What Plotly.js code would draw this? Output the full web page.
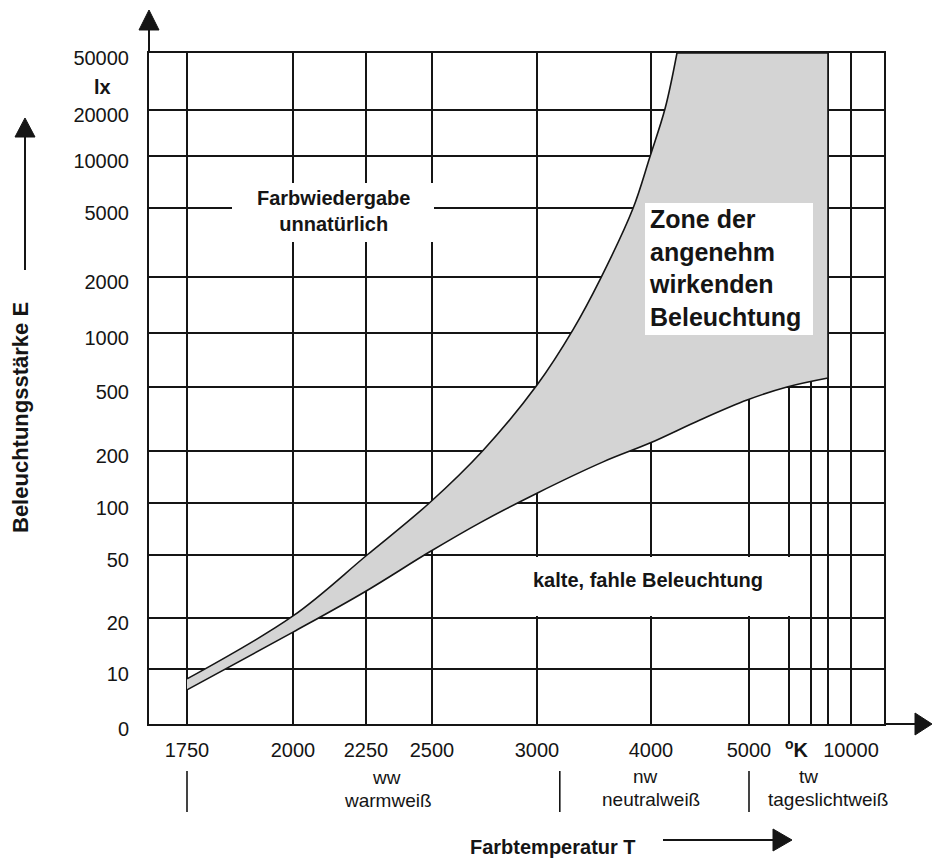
<!DOCTYPE html>
<html><head><meta charset="utf-8">
<script src="https://cdn.plot.ly/plotly-3.0.1.min.js"></script>
<style>html,body{margin:0;padding:0;background:#fff}#chart{width:933px;height:860px}</style>
</head><body><div id="chart"></div>
<script>
// ---- Data (colour temperature in K, illuminance in lx) ----
const upperT = [1750, 2000, 2254, 2490, 2745, 3000, 3315, 3555, 3840, 3990, 4145, 4265];
const upperE = [8.2, 20.6, 50, 100, 203, 513, 1040, 1950, 4930, 9870, 20650, 50000];
const lowerT = [1750, 2000, 2245, 2490, 2730, 3000, 3580, 3990, 4500, 4980, 5950, 8000];
const lowerE = [6.2, 16.5, 29.2, 52, 77, 114, 173, 224, 312, 415, 500, 561];
const zoneRightT = 8000;
const zoneTopE = 50000;

// ---- Axis ticks ----
const yTickValues = [0, 10, 20, 50, 100, 200, 500, 1000, 2000, 5000, 10000, 20000, 50000];
const yTickLabels = ['0', '10', '20', '50', '100', '200', '500', '1000', '2000', '5000', '10000', '20000', '50000'];
const xTickValues = [1750, 2000, 2250, 2500, 3000, 4000, 5000, 6000, 7000, 8000, 10000];
const xTickLabels = ['1750', '2000', '2250', '2500', '3000', '4000', '5000', '', '', '', '10000'];
const groupBounds = [1750, 3200, 5000];
const groupShort = ['ww', 'nw', 'tw'];
const groupNames = ['warmweiß', 'neutralweiß', 'tageslichtweiß'];

// ---- Non-uniform printed scale of the nomogram (grid spacing in axis units) ----
const xScaleSpacing = [38, 144, 217, 283, 388, 502, 600, 640, 662, 679, 702];
const yScaleSpacing = [0, 55, 106, 169, 221, 273, 337, 391, 447, 516, 568, 614, 671];

function xPos(t) {
  const v = xTickValues, u = xScaleSpacing;
  let i = 0;
  while (i < v.length - 2 && t > v[i + 1]) i++;
  return u[i] + (u[i + 1] - u[i]) * (t - v[i]) / (v[i + 1] - v[i]);
}
function yPos(e) {
  const v = yTickValues, u = yScaleSpacing;
  if (e <= v[1]) return u[1] * e / v[1];
  let i = 1;
  while (i < v.length - 2 && e > v[i + 1]) i++;
  return u[i] + (u[i + 1] - u[i]) * Math.log(e / v[i]) / Math.log(v[i + 1] / v[i]);
}

// ---- zone outline: upper curve, top edge, right edge, lower curve (reversed) ----
const px = [], py = [];
function add(t, e, n) { for (let k = 0; k < (n || 1); k++) { px.push(xPos(t)); py.push(yPos(e)); } }
for (let i = 0; i < upperT.length - 1; i++) add(upperT[i], upperE[i]);
add(upperT[upperT.length - 1], upperE[upperE.length - 1], 2);   // sharp corner
add(zoneRightT, zoneTopE, 2);                                     // sharp corner
add(lowerT[lowerT.length - 1], lowerE[lowerE.length - 1], 2);   // sharp corner
for (let i = lowerT.length - 2; i >= 0; i--) add(lowerT[i], lowerE[i]);

const ink = '#151515';
const zone = {
  x: px, y: py, mode: 'lines', fill: 'toself', fillcolor: 'rgb(212,212,212)',
  line: { color: ink, width: 1.6, shape: 'spline', smoothing: 1 },
  hoverinfo: 'skip', showlegend: false
};

// ---- layout helpers (pixel placement of decorations) ----
const L = 149, T = 53, W = 735, H = 671;
const pX = p => (p - L) / W;
const pY = p => (T + H - p) / H;
const font = 'Liberation Sans, Arial, sans-serif';

function label(text, x, y, size, bold, extra) {
  return Object.assign({
    text: bold ? '<b>' + text + '</b>' : text, x: pX(x), y: pY(y), xref: 'paper', yref: 'paper',
    showarrow: false, font: { family: font, size: size, color: ink }, xanchor: 'center', yanchor: 'middle'
  }, extra || {});
}
// arrow: shaft line + filled triangular head (tip at x1,y1)
function arrowShapes(x0, y0, x1, y1, len, half) {
  const dx = x1 - x0, dy = y1 - y0, d = Math.hypot(dx, dy), ux = dx / d, uy = dy / d;
  const bx = x1 - ux * len, by = y1 - uy * len;
  const p = (a, b) => pX(a).toFixed(5) + ',' + pY(b).toFixed(5);
  return [
    { type: 'line', xref: 'paper', yref: 'paper', x0: pX(x0), y0: pY(y0), x1: pX(bx), y1: pY(by),
      line: { color: ink, width: 2 } },
    { type: 'path', xref: 'paper', yref: 'paper',
      path: 'M' + p(x1, y1) + ' L' + p(bx - uy * half, by + ux * half) + ' L' + p(bx + uy * half, by - ux * half) + ' Z',
      fillcolor: ink, line: { color: ink, width: 1 } }
  ];
}
function mask(x0, x1, y0, y1) {
  return { type: 'rect', xref: 'paper', yref: 'paper', x0: pX(x0), x1: pX(x1), y0: pY(y1), y1: pY(y0),
    fillcolor: '#ffffff', line: { width: 0 }, layer: 'above' };
}

const annotations = [
  label('Farbwiedergabe<br>unnatürlich', 333, 211, 20, true),
  label('kalte, fahle Beleuchtung', 648, 580, 20, true),
  label('Zone der<br>angenehm<br>wirkenden<br>Beleuchtung', 647, 268, 25, true, { xanchor: 'left', align: 'left' }),
  label('lx', 102, 87, 20, true),
  label('<sup>o</sup>K', 797, 748, 20, true),
  label('Farbtemperatur T', 553, 847, 20, true),
  label('Beleuchtungsstärke E', 20, 418, 22, true, { textangle: -90 }),
  label(groupShort[0], 386, 777, 19, false), label(groupNames[0], 388, 800, 19, false),
  label(groupShort[1], 645, 776, 19, false), label(groupNames[1], 651, 799, 19, false),
  label(groupShort[2], 808, 776, 19, false), label(groupNames[2], 828, 799, 19, false)
];

const shapes = [
  mask(232, 434, 183, 242),
  mask(490, 800, 557, 616),
  mask(645, 813, 203, 335)
].concat(groupBounds.map(t => ({
  type: 'line', xref: 'paper', yref: 'paper', x0: pX(L + xPos(t)), x1: pX(L + xPos(t)),
  y0: pY(771), y1: pY(812), line: { color: ink, width: 1.6 }
})))
 .concat(arrowShapes(149, 53, 149, 10, 20, 10))
 .concat(arrowShapes(884, 724, 932, 724, 17, 11))
 .concat(arrowShapes(25, 270, 25, 118, 19, 10))
 .concat(arrowShapes(663, 840, 792, 840, 19, 11));

const axisCommon = {
  showgrid: true, gridcolor: ink, gridwidth: 1.6, zeroline: false,
  showline: true, linecolor: ink, linewidth: 2, mirror: true, ticks: '',
  tickfont: { family: font, size: 20, color: ink }, fixedrange: true, automargin: false
};

const layout = {
  width: 933, height: 860,
  margin: { l: L, r: 933 - L - W, t: T, b: 860 - T - H, pad: 0 },
  paper_bgcolor: '#ffffff', plot_bgcolor: '#ffffff', showlegend: false,
  xaxis: Object.assign({}, axisCommon, {
    range: [0, W], tickmode: 'array', tickvals: xTickValues.map(xPos), ticktext: xTickLabels,
    ticklabelstandoff: 7
  }),
  yaxis: Object.assign({}, axisCommon, {
    range: [0, H], tickmode: 'array', tickvals: yTickValues.map(yPos), ticktext: yTickLabels,
    ticklabelstandoff: 14, ticklabelshift: 5
  }),
  annotations: annotations,
  shapes: shapes
};

Plotly.newPlot('chart', [zone], layout, { staticPlot: true, displayModeBar: false });
</script>
</body></html>
